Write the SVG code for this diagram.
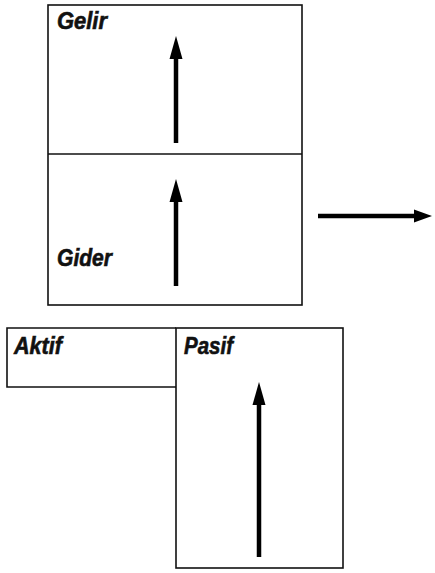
<svg xmlns="http://www.w3.org/2000/svg" width="435" height="573" viewBox="0 0 435 573">
<style>
.box{fill:none;stroke:#111;stroke-width:1.6}
.lbl{font-family:"Liberation Sans",Arial,sans-serif;font-weight:bold;font-style:italic;font-size:23px;fill:#111;stroke:#111;stroke-width:0.6}
.arr{stroke:#000;stroke-width:4.5;fill:none}
</style>
<defs>
<marker id="headV" markerUnits="userSpaceOnUse" markerWidth="26" markerHeight="14" viewBox="0 0 26 14" refX="2" refY="7" orient="auto">
<path d="M0,0.5 L23,7 L0,13.5 z" fill="#000"/>
</marker>
<marker id="headH" markerUnits="userSpaceOnUse" markerWidth="20" markerHeight="14" viewBox="0 0 20 14" refX="2" refY="7" orient="auto">
<path d="M0,0.5 L18,7 L0,13.5 z" fill="#000"/>
</marker>
</defs>
<g id="gelir-gider">
<rect class="box" x="48" y="5" width="254" height="300"/>
<line class="box" x1="48" y1="154" x2="302" y2="154"/>
<text class="lbl" x="57" y="29" textLength="50" lengthAdjust="spacingAndGlyphs">Gelir</text>
<text class="lbl" x="57" y="266" textLength="55" lengthAdjust="spacingAndGlyphs">Gider</text>
</g>
<g id="aktif">
<polyline class="box" points="176,328 7,328 7,387 176,387"/>
<text class="lbl" x="14" y="354" textLength="48" lengthAdjust="spacingAndGlyphs">Aktif</text>
</g>
<g id="pasif">
<rect class="box" x="176" y="328" width="167" height="240"/>
<text class="lbl" x="184" y="354" textLength="49" lengthAdjust="spacingAndGlyphs">Pasif</text>
</g>
<g id="connectors">
<line class="arr" x1="176" y1="143" x2="176" y2="57" marker-end="url(#headV)"/>
<line class="arr" x1="176" y1="286" x2="176" y2="200" marker-end="url(#headV)"/>
<line class="arr" x1="259" y1="557" x2="259" y2="403" marker-end="url(#headV)"/>
<line class="arr" x1="318" y1="216" x2="416" y2="216" marker-end="url(#headH)"/>
</g>
</svg>
